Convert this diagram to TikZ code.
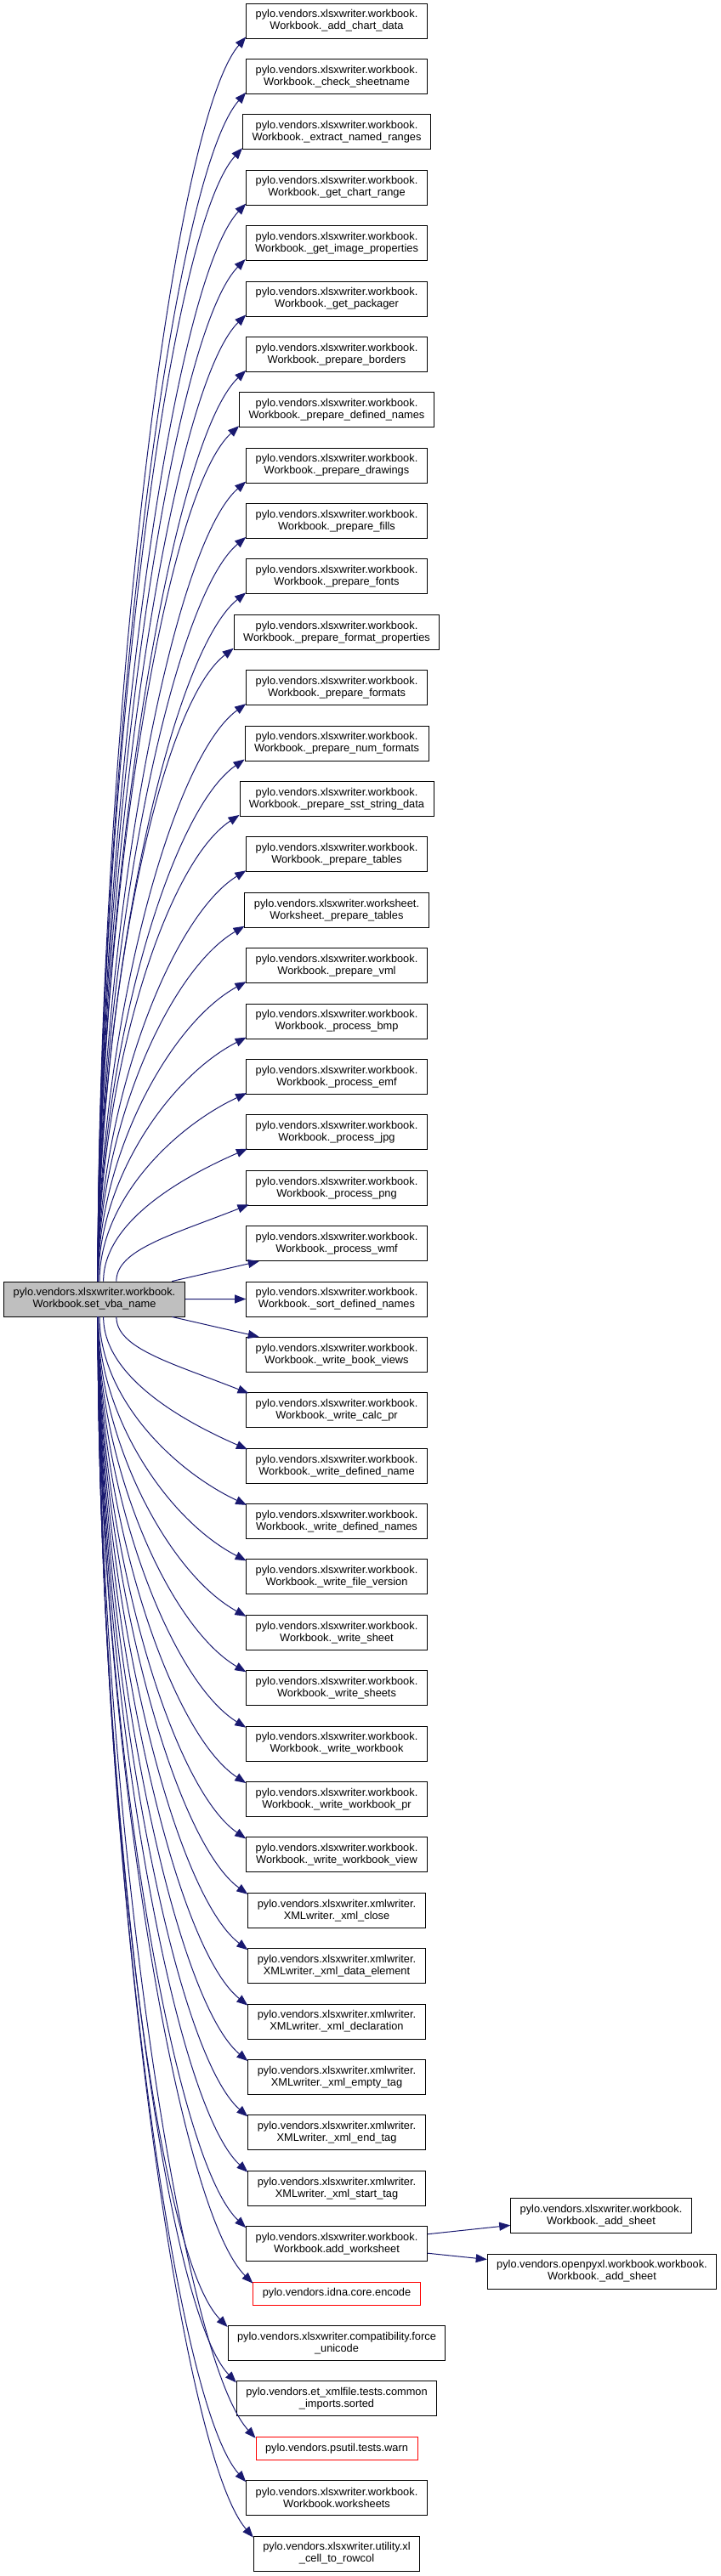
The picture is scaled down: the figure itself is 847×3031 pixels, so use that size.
\documentclass[tikz,border=0pt]{standalone}
\usepackage{fontspec}
\setmainfont{Liberation Sans}
\usetikzlibrary{arrows.meta,calc}
\definecolor{edgeblue}{RGB}{25,25,112}
\definecolor{mainfill}{RGB}{191,191,191}
\begin{document}
\begin{tikzpicture}[x=1pt,y=1pt,
 box/.style={draw=black, line width=0.9pt, fill=white, align=center, inner xsep=11pt, inner ysep=0pt, minimum height=41pt, font=\fontsize{12.8}{14}\selectfont},
 onebox/.style={box, draw=red, minimum height=27pt},
 mainbox/.style={box, fill=mainfill},
 edge/.style={draw=edgeblue, line width=1pt, -{Triangle[length=13pt,width=10pt]}}]
\useasboundingbox (0,0) rectangle (847,-3031);
\node[mainbox] (main) at (111,-1528.5) {pylo.vendors.xlsxwriter.workbook.\\Workbook.set\_vba\_name};
\foreach \k/\lbl in {
 1/{pylo.vendors.xlsxwriter.workbook.\\Workbook.\_add\_chart\_data},
 2/{pylo.vendors.xlsxwriter.workbook.\\Workbook.\_check\_sheetname},
 3/{pylo.vendors.xlsxwriter.workbook.\\Workbook.\_extract\_named\_ranges},
 4/{pylo.vendors.xlsxwriter.workbook.\\Workbook.\_get\_chart\_range},
 5/{pylo.vendors.xlsxwriter.workbook.\\Workbook.\_get\_image\_properties},
 6/{pylo.vendors.xlsxwriter.workbook.\\Workbook.\_get\_packager},
 7/{pylo.vendors.xlsxwriter.workbook.\\Workbook.\_prepare\_borders},
 8/{pylo.vendors.xlsxwriter.workbook.\\Workbook.\_prepare\_defined\_names},
 9/{pylo.vendors.xlsxwriter.workbook.\\Workbook.\_prepare\_drawings},
 10/{pylo.vendors.xlsxwriter.workbook.\\Workbook.\_prepare\_fills},
 11/{pylo.vendors.xlsxwriter.workbook.\\Workbook.\_prepare\_fonts},
 12/{pylo.vendors.xlsxwriter.workbook.\\Workbook.\_prepare\_format\_properties},
 13/{pylo.vendors.xlsxwriter.workbook.\\Workbook.\_prepare\_formats},
 14/{pylo.vendors.xlsxwriter.workbook.\\Workbook.\_prepare\_num\_formats},
 15/{pylo.vendors.xlsxwriter.workbook.\\Workbook.\_prepare\_sst\_string\_data},
 16/{pylo.vendors.xlsxwriter.workbook.\\Workbook.\_prepare\_tables},
 17/{pylo.vendors.xlsxwriter.worksheet.\\Worksheet.\_prepare\_tables},
 18/{pylo.vendors.xlsxwriter.workbook.\\Workbook.\_prepare\_vml},
 19/{pylo.vendors.xlsxwriter.workbook.\\Workbook.\_process\_bmp},
 20/{pylo.vendors.xlsxwriter.workbook.\\Workbook.\_process\_emf},
 21/{pylo.vendors.xlsxwriter.workbook.\\Workbook.\_process\_jpg},
 22/{pylo.vendors.xlsxwriter.workbook.\\Workbook.\_process\_png},
 23/{pylo.vendors.xlsxwriter.workbook.\\Workbook.\_process\_wmf},
 24/{pylo.vendors.xlsxwriter.workbook.\\Workbook.\_sort\_defined\_names},
 25/{pylo.vendors.xlsxwriter.workbook.\\Workbook.\_write\_book\_views},
 26/{pylo.vendors.xlsxwriter.workbook.\\Workbook.\_write\_calc\_pr},
 27/{pylo.vendors.xlsxwriter.workbook.\\Workbook.\_write\_defined\_name},
 28/{pylo.vendors.xlsxwriter.workbook.\\Workbook.\_write\_defined\_names},
 29/{pylo.vendors.xlsxwriter.workbook.\\Workbook.\_write\_file\_version},
 30/{pylo.vendors.xlsxwriter.workbook.\\Workbook.\_write\_sheet},
 31/{pylo.vendors.xlsxwriter.workbook.\\Workbook.\_write\_sheets},
 32/{pylo.vendors.xlsxwriter.workbook.\\Workbook.\_write\_workbook},
 33/{pylo.vendors.xlsxwriter.workbook.\\Workbook.\_write\_workbook\_pr},
 34/{pylo.vendors.xlsxwriter.workbook.\\Workbook.\_write\_workbook\_view},
 35/{pylo.vendors.xlsxwriter.xmlwriter.\\XMLwriter.\_xml\_close},
 36/{pylo.vendors.xlsxwriter.xmlwriter.\\XMLwriter.\_xml\_data\_element},
 37/{pylo.vendors.xlsxwriter.xmlwriter.\\XMLwriter.\_xml\_declaration},
 38/{pylo.vendors.xlsxwriter.xmlwriter.\\XMLwriter.\_xml\_empty\_tag},
 39/{pylo.vendors.xlsxwriter.xmlwriter.\\XMLwriter.\_xml\_end\_tag},
 40/{pylo.vendors.xlsxwriter.xmlwriter.\\XMLwriter.\_xml\_start\_tag},
 41/{pylo.vendors.xlsxwriter.workbook.\\Workbook.add\_worksheet}}
{\node[box] (n\k) at (396,{-(24.5+(\k-1)*65.39)}) {\lbl};}
\node[onebox] (n42) at (396,-2698.5) {pylo.vendors.idna.core.encode};
\node[box] (n43) at (396,-2756.9) {pylo.vendors.xlsxwriter.compatibility.force\\\_unicode};
\node[box] (n44) at (396,-2822.3) {pylo.vendors.et\_xmlfile.tests.common\\\_imports.sorted};
\node[onebox] (n45) at (396,-2880.7) {pylo.vendors.psutil.tests.warn};
\node[box] (n46) at (396,-2939.1) {pylo.vendors.xlsxwriter.workbook.\\Workbook.worksheets};
\node[box] (n47) at (396,-3004.5) {pylo.vendors.xlsxwriter.utility.xl\\\_cell\_to\_rowcol};
\node[box] (as1) at (707,-2607) {pylo.vendors.xlsxwriter.workbook.\\Workbook.\_add\_sheet};
\node[box] (as2) at (708,-2672.5) {pylo.vendors.openpyxl.workbook.workbook.\\Workbook.\_add\_sheet};
% curved edges upward
\foreach \k in {1,...,22}{
 \draw[edge] let \p1=(n\k.south west), \p2=(main.north),
   \n1={\y1-\y2},
   \n2={\x2+4+110*exp(max(-8,-\n1/55))},
   \n3={8*exp(max(-8,-\n1/100))},
   \n4={min(90,0.6*\n1+40)},
   \n5={30+0.05*\n1} in
  (\n2,\y2) .. controls (\n2,{\y2+0.42*\n1}) and ({\x1+\n3-\n4},{\y1-\n5}) .. ({\x1+\n3},{\y1+2-2*\n3/8});
}
% curved edges downward
\foreach \k in {26,...,47}{
 \draw[edge] let \p1=(n\k.north west), \p2=(main.south),
   \n1={\y2-\y1},
   \n2={\x2+4+110*exp(max(-8,-\n1/55))},
   \n3={8*exp(max(-8,-\n1/100))},
   \n4={min(90,0.6*\n1+40)},
   \n5={30+0.05*\n1} in
  (\n2,\y2) .. controls (\n2,{\y2-0.42*\n1}) and ({\x1+\n3-\n4},{\y1+\n5}) .. ({\x1+\n3},{\y1-2+2*\n3/8});
}
\draw[edge] (main) -- (n23);
\draw[edge] (main) -- (n24);
\draw[edge] (main) -- (n25);
\draw[edge] (n41) -- (as1);
\draw[edge] (n41) -- (as2);
\end{tikzpicture}
\end{document}
